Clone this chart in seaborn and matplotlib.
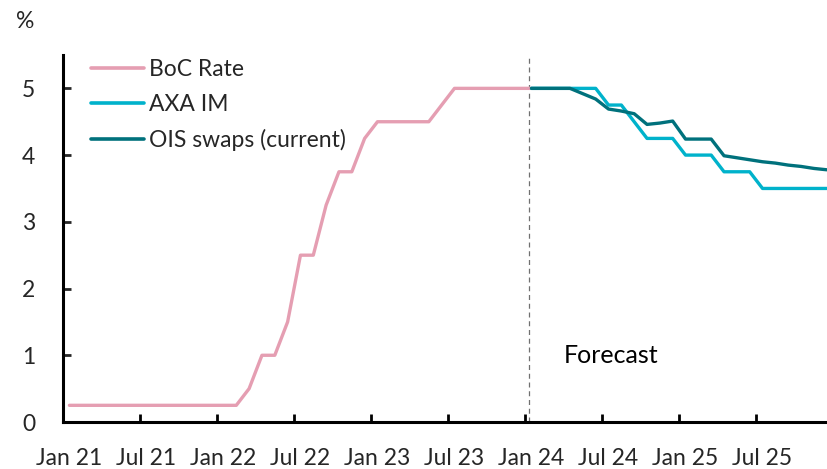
import numpy as np
import pandas as pd
import matplotlib
matplotlib.use("Agg")
import matplotlib.pyplot as plt
import seaborn as sns

# Monthly series, month 0 = Jan 2021
boc_rate = [0.25] * 14 + [0.5, 1.0, 1.0, 1.5, 2.5, 2.5, 3.25, 3.75, 3.75, 4.25,
                          4.5, 4.5, 4.5, 4.5, 4.5, 4.75,
                          5.0, 5.0, 5.0, 5.0, 5.0, 5.0, 5.0]           # Jan 21 .. Jan 24
axa_im = [5.0, 5.0, 5.0, 5.0, 5.0, 5.0, 4.75, 4.75, 4.5, 4.25, 4.25, 4.25,
          4.0, 4.0, 4.0, 3.75, 3.75, 3.75, 3.5, 3.5, 3.5, 3.5, 3.5, 3.5]  # Jan 24 .. Dec 25
ois_swaps = [5.0, 5.0, 5.0, 5.0, 4.92, 4.84, 4.69, 4.66, 4.62, 4.46, 4.48, 4.51,
             4.24, 4.24, 4.24, 3.99, 3.96, 3.93, 3.90, 3.88, 3.85, 3.83, 3.80, 3.78]
forecast_start = 36  # Jan 24

tick_labels = ["Jan 21", "Jul 21", "Jan 22", "Jul 22", "Jan 23",
               "Jul 23", "Jan 24", "Jul 24", "Jan 25", "Jul 25"]

series_names = ["BoC Rate", "AXA IM", "OIS swaps (current)"]
colors = ["#E59EB2", "#00B2CB", "#00717C"]

frames = []
for name, vals, start in [("BoC Rate", boc_rate, 0),
                          ("AXA IM", axa_im, forecast_start),
                          ("OIS swaps (current)", ois_swaps, forecast_start)]:
    idx = np.arange(start, start + len(vals))
    frames.append(pd.DataFrame({"month": idx + 0.5, "rate": vals, "series": name}))
df = pd.concat(frames, ignore_index=True)

sns.set_style("ticks")
plt.rcParams["font.family"] = ["Lato", "DejaVu Sans"]

fs = 16.5

fig = plt.figure(figsize=(8.28, 4.69), dpi=100)
ax = fig.add_axes([63 / 828, 47 / 469, (828 - 63) / 828, 367 / 469])

sns.lineplot(data=df, x="month", y="rate", hue="series", hue_order=series_names,
             palette=colors, linewidth=2.4, ax=ax, legend=True)

ax.axvline(forecast_start + 0.3, color="#707070", linestyle=(0, (4, 3)), linewidth=0.9,
           zorder=1)
ax.text(forecast_start + 3.0, 1.0, "Forecast", fontsize=18, va="center", ha="left",
        color="black")

ax.set_xlim(0, 59.6)
ax.set_ylim(0, 5.5)

major = np.arange(0, 60, 6)
ax.set_xticks(major)
ax.set_xticklabels([])
ax.set_xticks(major + 0.5, minor=True)
ax.set_xticklabels(tick_labels, minor=True)
ax.tick_params(axis="x", which="major", direction="in", length=6, width=2, color="black")
ax.tick_params(axis="x", which="minor", length=0, pad=18.5, labelsize=fs)

ax.set_yticks(np.arange(0, 6, 1))
ax.tick_params(axis="y", direction="in", length=6, width=2, pad=20, labelsize=fs)

for side in ["left", "bottom"]:
    ax.spines[side].set_linewidth(2.2)
    ax.spines[side].set_color("black")
for side in ["top", "right"]:
    ax.spines[side].set_visible(False)

ax.set_xlabel("")
ax.set_ylabel("")
fig.text(25 / 828, 1 - 22 / 469, "%", fontsize=fs, ha="center", va="center")

leg = ax.legend(frameon=False, loc="upper left", bbox_to_anchor=(0.025, 1.015),
                fontsize=fs, handlelength=2.3, handletextpad=0.2, labelspacing=0.62,
                borderaxespad=0.0)
for line in leg.get_lines():
    line.set_linewidth(2.6)

fig.savefig("out.png", dpi=100)
